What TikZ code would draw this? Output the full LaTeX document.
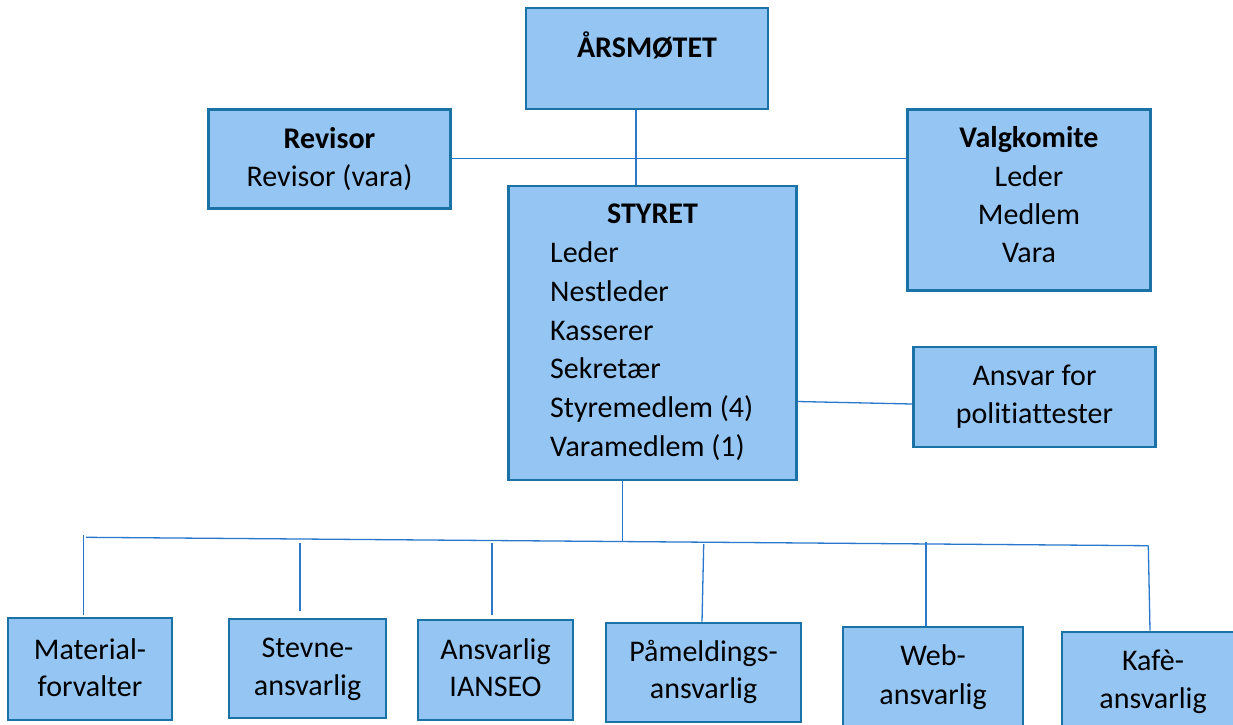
\documentclass[tikz,border=0pt]{standalone}
\usepackage{fontspec}
\setmainfont[Ligatures={NoCommon}]{Carlito}
\definecolor{boxfill}{HTML}{95C6F3}
\definecolor{boxline}{HTML}{1B72A6}
\definecolor{connc}{HTML}{2A78CC}
\begin{document}
\begin{tikzpicture}[x=1pt,y=-1pt,
  box/.style={draw=boxline,fill=boxfill,line width=2.6pt,inner sep=0pt,rectangle},
  txt/.style={anchor=base,inner sep=0pt,font=\fontsize{30}{38}\selectfont},
  ltxt/.style={anchor=base west,inner sep=0pt,font=\fontsize{30}{38}\selectfont},
  conn/.style={draw=connc,line width=1.3pt}]
\useasboundingbox (0,0) rectangle (1233,724);
% boxes
\node[box,minimum width=242pt,minimum height=101pt] (ars) at (647,58.5) {};
\node[box,minimum width=242pt,minimum height=99pt] (rev) at (329.5,158.8) {};
\node[box,minimum width=243pt,minimum height=181pt] (val) at (1029,200) {};
\node[box,minimum width=288pt,minimum height=294pt] (sty) at (652.5,333) {};
\node[box,minimum width=242pt,minimum height=100pt] (ans) at (1034.5,397) {};
\node[box,minimum width=164pt,minimum height=102pt] (mat) at (90,669) {};
\node[box,minimum width=157pt,minimum height=99pt] (stv) at (307.5,668.5) {};
\node[box,minimum width=155pt,minimum height=100pt] (ian) at (495.5,670) {};
\node[box,minimum width=195pt,minimum height=99pt] (pam) at (703.5,672.5) {};
\node[box,minimum width=180pt,minimum height=102pt] (web) at (933,678) {};
\node[box,minimum width=182pt,minimum height=102pt] (kaf) at (1153,683) {};
% texts
\node[txt] (arsT) at (647,57) {\textbf{ÅRSMØTET}};
\node[txt] (revT1) at (329.5,148.3) {\textbf{Revisor}};
\node[txt] (revT2) at (329.5,186.7) {Revisor (vara)};
\node[txt] (valT1) at (1029,147.7) {\textbf{Valgkomite}};
\node[txt] (valT2) at (1029,186) {Leder};
\node[txt] (valT3) at (1029,224.3) {Medlem};
\node[txt] (valT4) at (1029,262.7) {Vara};
\node[txt] (styT0) at (652.5,223.3) {\textbf{STYRET}};
\node[ltxt] (styT1) at (550,262.7) {Leder};
\node[ltxt] (styT2) at (550,301) {Nestleder};
\node[ltxt] (styT3) at (550,340) {Kasserer};
\node[ltxt] (styT4) at (550,378.5) {Sekretær};
\node[ltxt] (styT5) at (550,417.5) {Styremedlem (4)};
\node[ltxt] (styT6) at (550,456) {Varamedlem (1)};
\node[txt] (ansT1) at (1034.5,385) {Ansvar for};
\node[txt] (ansT2) at (1034.5,423.3) {politiattester};
\node[txt] (matT1) at (90,659.3) {Material-};
\node[txt] (matT2) at (90,696.7) {forvalter};
\node[txt] (stvT1) at (307.5,657.7) {Stevne-};
\node[txt] (stvT2) at (307.5,695) {ansvarlig};
\node[txt] (ianT1) at (495.5,659.3) {Ansvarlig};
\node[txt] (ianT2) at (495.5,696.7) {IANSEO};
\node[txt] (pamT1) at (703.5,661) {Påmeldings-};
\node[txt] (pamT2) at (703.5,698.3) {ansvarlig};
\node[txt] (webT1) at (933,665.7) {Web-};
\node[txt] (webT2) at (933,704) {ansvarlig};
\node[txt] (kafT1) at (1153,670) {Kafè-};
\node[txt] (kafT2) at (1153,708.3) {ansvarlig};
% connectors
\coordinate (xa) at (636,0);
\draw[conn] (ars.south -| xa) -- (sty.north -| xa);
\coordinate (ya) at (0,158.3);
\draw[conn] (rev.east |- ya) -- (val.west |- ya);
\coordinate (sa) at (0,401.5);
\coordinate (sb) at (0,404);
\draw[conn] (sty.east |- sa) -- (ans.west |- sb);
\coordinate (busL) at (86,537.3);
\coordinate (busR) at (1148.3,545.7);
\coordinate (busM) at (622.3,541.7);
\draw[conn] (busL) -- (busR);
\draw[conn] (sty.south -| busM) -- (busM);
\coordinate (t1) at (83.5,535);
\coordinate (t2) at (300,543.3);
\coordinate (t3) at (492,543);
\coordinate (t4) at (703.7,544);
\coordinate (t5) at (926,542.3);
\draw[conn,shorten >=2pt] (t1) -- (t1 |- mat.north);
\draw[conn,shorten >=7pt] (t2) -- (t2 |- stv.north);
\draw[conn,shorten >=4pt] (t3) -- (t3 |- ian.north);
\draw[conn] (t4) -- (pam.north -| 702,0);
\draw[conn] (t5) -- (t5 |- web.north);
\draw[conn] (busR) -- (kaf.north -| 1150,0);
\end{tikzpicture}
\end{document}
